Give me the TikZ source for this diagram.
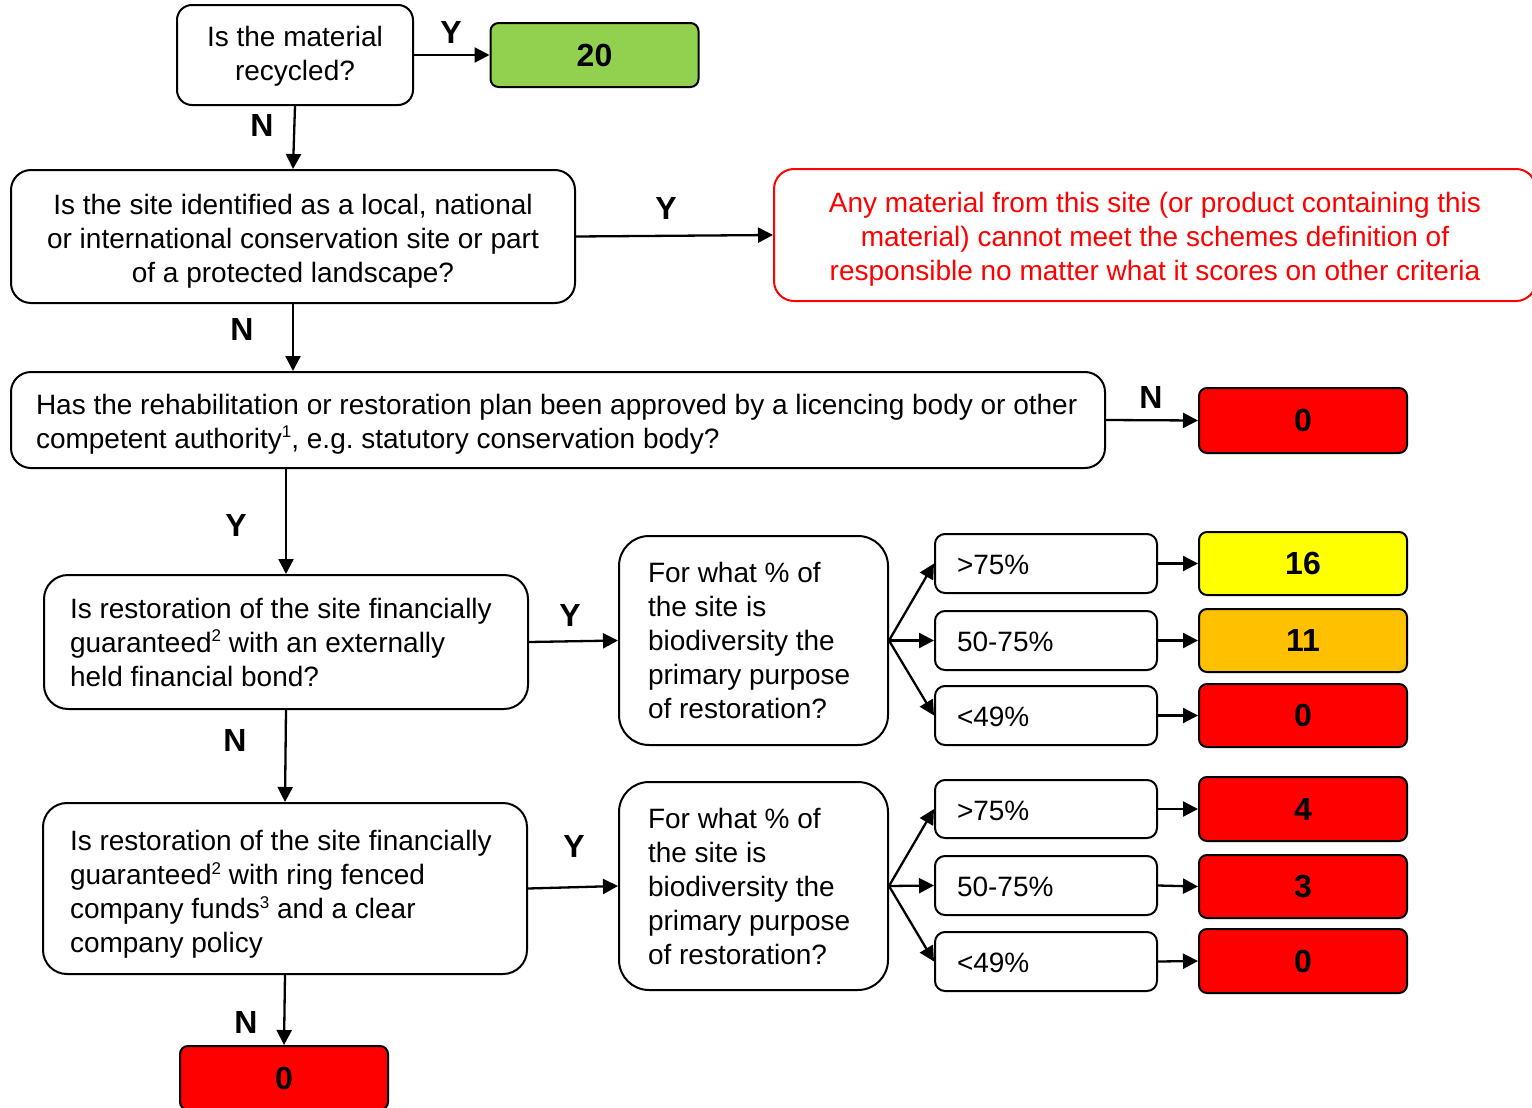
\documentclass[tikz,border=0pt]{standalone}
\usepackage{fontspec}
\setmainfont{Liberation Sans}
\usetikzlibrary{arrows.meta}
\definecolor{cgreen}{HTML}{92D050}
\definecolor{cyellow}{HTML}{FFFF00}
\definecolor{corange}{HTML}{FFC000}
\definecolor{cred}{HTML}{FF0000}
\newcommand\sups[1]{\raisebox{5.2pt}{\fontsize{8.5}{8.5}\selectfont #1}}
\newcommand\topstrut[1]{\rule{0pt}{#1}}
\frenchspacing
\begin{document}
\begin{tikzpicture}[x=0.5pt,y=-0.5pt,
  qbox/.style={draw=black, fill=white, line width=1pt, font=\fontsize{14}{17}\selectfont, inner ysep=0pt, rounded corners=10pt},
  rng/.style={qbox, rounded corners=5pt, align=flush left, text width=89pt, inner xsep=11pt, minimum width=111pt},
  score/.style={draw=black, line width=1pt, rounded corners=4pt, font=\fontsize{16}{19}\selectfont\bfseries, inner sep=0pt, minimum width=104pt},
  yn/.style={font=\fontsize{16}{19}\selectfont\bfseries, inner sep=0pt},
  conn/.style={-{Triangle[length=7.5pt,width=7.5pt]}, line width=1.15pt}]
\useasboundingbox (0,0) rectangle (1532,1108);
% question boxes
\node[qbox, rounded corners=7.5pt, align=flush center, text width=104pt, inner xsep=7pt, minimum height=50pt] (A) at (295,55) {\topstrut{11.5pt}Is the material\\recycled?};
\node[score, fill=cgreen, minimum height=32pt] (s20) at (594.5,55) {20};
\node[qbox, align=flush center, text width=266pt, inner xsep=8pt, minimum height=66.5pt] (B) at (293,236.5) {\topstrut{14.5pt}Is the site identified as a local, national\\or international conservation site or part\\of a protected landscape?};
\node[qbox, draw=cred, text=cred, align=flush center, text width=365pt, inner xsep=8pt, minimum height=66pt] (R) at (1155,235) {\topstrut{14pt}Any material from this site (or product containing this\\material) cannot meet the schemes definition of\\responsible no matter what it scores on other criteria};
\node[qbox, align=flush left, text width=522pt, inner xsep=12.5pt, minimum height=48pt] (C) at (558,420) {\topstrut{14.2pt}\mbox{Has the rehabilitation or restoration plan been approved by a licencing body or other}\\\mbox{competent authority\sups{1}, e.g.\ statutory conservation body?}};
\node[score, fill=cred, minimum height=32.5pt] (s0a) at (1303,420.5) {0};
\node[qbox, rounded corners=12pt, align=flush left, text width=216pt, inner xsep=13pt, minimum height=67pt] (D) at (286,642) {\mbox{Is restoration of the site financially}\\guaranteed\sups{2} with an externally\\held financial bond?};
\node[qbox, rounded corners=15pt, align=flush left, text width=105.5pt, inner xsep=14.5pt, minimum height=104.5pt] (E) at (753.5,640.5) {For what \% of\\the site is\\biodiversity the\\primary purpose\\of restoration?};
\node[rng, minimum height=29.5pt] (r1) at (1046,563.5) {\topstrut{11.5pt}>75\%};
\node[rng, minimum height=29.5pt] (r2) at (1046,640.5) {\topstrut{11.5pt}50-75\%};
\node[rng, minimum height=29.5pt] (r3) at (1046,715.5) {\topstrut{11.5pt}<49\%};
\node[score, fill=cyellow, minimum height=31.5pt] (s16) at (1303,563.5) {16};
\node[score, fill=corange, minimum height=31.5pt] (s11) at (1303,640.5) {11};
\node[score, fill=cred, minimum height=31.5pt] (s0b) at (1303,715.5) {0};
\node[qbox, rounded corners=12pt, align=flush left, text width=215pt, inner xsep=13.5pt, minimum height=85.5pt] (F) at (285,888.5) {\topstrut{16pt}\mbox{Is restoration of the site financially}\\guaranteed\sups{2} with ring fenced\\company funds\sups{3} and a clear\\company policy};
\node[qbox, rounded corners=15pt, align=flush left, text width=105.5pt, inner xsep=14.5pt, minimum height=104pt] (G) at (753.5,886) {For what \% of\\the site is\\biodiversity the\\primary purpose\\of restoration?};
\node[rng, minimum height=29pt] (r4) at (1046,809) {\topstrut{11.5pt}>75\%};
\node[rng, minimum height=29.5pt] (r5) at (1046,885.5) {\topstrut{11.5pt}50-75\%};
\node[rng, minimum height=29.5pt] (r6) at (1046,961.5) {\topstrut{11.5pt}<49\%};
\node[score, fill=cred, minimum height=32pt] (s4) at (1303,809) {4};
\node[score, fill=cred, minimum height=31.5pt] (s3) at (1303,886.5) {3};
\node[score, fill=cred, minimum height=32pt] (s0c) at (1303,961) {0};
\node[score, fill=cred, minimum height=32pt] (H) at (284,1078) {0};
% labels
\node[yn] (l1) at (451,32) {Y};
\node[yn] (l2) at (262,125) {N};
\node[yn] (l3) at (666,208) {Y};
\node[yn] (l4) at (242,329) {N};
\node[yn] (l5) at (1151,397) {N};
\node[yn] (l6) at (236,525) {Y};
\node[yn] (l7) at (570,615) {Y};
\node[yn] (l8) at (235,740) {N};
\node[yn] (l9) at (574,846) {Y};
\node[yn] (l10) at (246,1022) {N};
% connectors
\draw[conn] (A.east) -- (s20.west);
\draw[conn] (A.south) -- (B.north);
\draw[conn] (B.east) -- (R.west);
\draw[conn] (B.south) -- (B.south |- C.north);
\draw[conn] (C.east) -- (s0a.west);
\draw[conn] (C.south -| D.north) -- (D.north);
\draw[conn] (D.east) -- (E.west);
\draw[conn] (E.east) -- (r1.west);
\draw[conn] (E.east) -- (r2.west);
\draw[conn] (E.east) -- (r3.west);
\draw[conn] (r1.east) -- (s16.west);
\draw[conn] (r2.east) -- (s11.west);
\draw[conn] (r3.east) -- (s0b.west);
\draw[conn] (D.south) -- (F.north);
\draw[conn] (F.east) -- (G.west);
\draw[conn] (G.east) -- (r4.west);
\draw[conn] (G.east) -- (r5.west);
\draw[conn] (G.east) -- (r6.west);
\draw[conn] (r4.east) -- (s4.west);
\draw[conn] (r5.east) -- (s3.west);
\draw[conn] (r6.east) -- (s0c.west);
\draw[conn] (F.south) -- (H.north);
\end{tikzpicture}
\end{document}
